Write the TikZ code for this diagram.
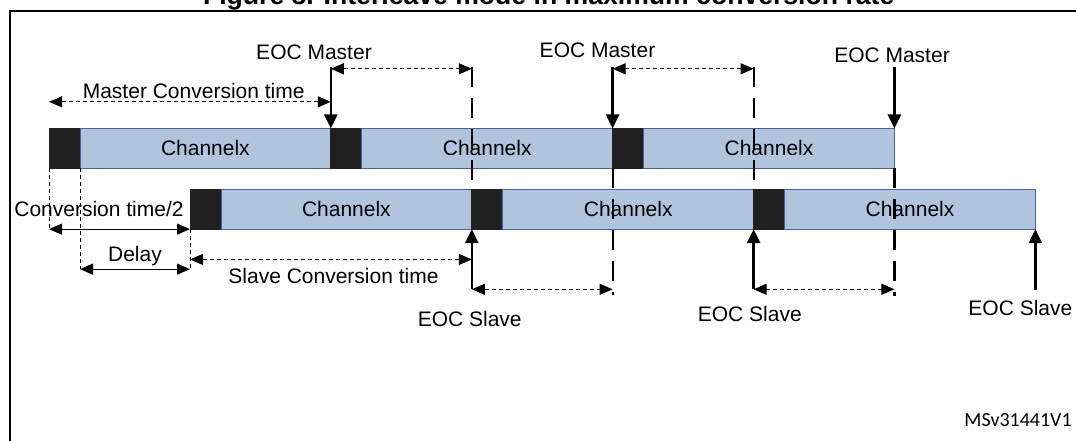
\documentclass[tikz,border=0pt]{standalone}
\usepackage{xcolor}
\usepackage{fontspec}
\setmainfont{Liberation Sans}
\newfontfamily\msfont{Carlito}
\usepackage{tikz}
\usetikzlibrary{arrows.meta,positioning}

\definecolor{chfill}{RGB}{176,196,222}
\definecolor{chline}{RGB}{70,100,158}
\definecolor{blkfill}{RGB}{32,32,32}

\begin{document}
\begin{tikzpicture}[
			x=1pt,y=1pt,
			every node/.style={font=\fontsize{21}{24}\selectfont,inner sep=0pt,outer sep=0pt},
			blk/.style={draw=blkfill,line width=0.8pt,fill=blkfill,minimum width=31pt,minimum height=40pt},
			chan/.style={draw=chline,line width=0.8pt,fill=chfill,minimum width=250.8pt,minimum height=40pt},
			lbl/.style={anchor=base},
			eoc/.style={line width=2.4pt,-{Triangle[length=14pt,width=13pt]}},
			dimd/.style={line width=1.2pt,dash pattern=on 4pt off 3pt,{Triangle[length=13pt,width=11pt]}-{Triangle[length=13pt,width=11pt]}},
			dims/.style={line width=1.2pt,{Triangle[length=13pt,width=11pt]}-{Triangle[length=13pt,width=11pt]}},
			ldash/.style={line width=2.2pt,dash pattern=on 20pt off 11pt},
			thindash/.style={line width=1pt,dash pattern=on 4pt off 3pt}
			]

			\useasboundingbox (0,0) rectangle (1076,441);
			\clip (0,0) rectangle (1076,441);

			\draw[line width=2pt] (10,0) -- (10,430) -- (1076,430);
			\node[anchor=base west,font=\fontsize{26.6}{30}\selectfont\bfseries] (ttl) at (203,436.5) {Figure 8. Interleave mode in maximum conversion rate};

			% master row
			\node[blk,anchor=west] (m1) at (49,292.5) {};
			\node[chan,right=0pt of m1] (mc1) {Channelx};
			\node[blk,right=0pt of mc1] (m2) {};
			\node[chan,right=0pt of m2] (mc2) {Channelx};
			\node[blk,right=0pt of mc2] (m3) {};
			\node[chan,right=0pt of m3] (mc3) {Channelx};

			% slave row
			\node[blk,anchor=west] (s1) at (190,231.85) {};
			\node[chan,right=0pt of s1] (sc1) {Channelx};
			\node[blk,right=0pt of sc1] (s2) {};
			\node[chan,right=0pt of s2] (sc2) {Channelx};
			\node[blk,right=0pt of sc2] (s3) {};
			\node[chan,right=0pt of s3] (sc3) {Channelx};

			\coordinate (t1) at ([yshift=61.3]m2.north west);
			\coordinate (t2) at ([yshift=61.3]m3.north west);
			\coordinate (t3) at ([yshift=61.3]mc3.north east);
			\coordinate (u1) at (s2.north west |- t1);
			\coordinate (u2) at (s3.north west |- t2);

			\draw[ldash] (u1) -- (s2.north west);
			\draw[ldash] (u2) -- (s3.north west);
			\draw[eoc] (t1) -- (m2.north west);
			\draw[eoc] (t2) -- (m3.north west);
			\draw[eoc] (t3) -- (mc3.north east);
			\draw[dimd] ([yshift=-1.6]t1) -- ([yshift=-1.6]u1);
			\draw[dimd] ([yshift=-1.6]t2) -- ([yshift=-1.6]u2);

			\coordinate (b1) at ([yshift=-60.15]s2.south west);
			\coordinate (b2) at ([yshift=-60.15]s3.south west);
			\coordinate (b3) at ([yshift=-60.85]sc3.south east);
			\coordinate (v1) at (m3.south west |- b1);
			\coordinate (v2) at (mc3.south east |- b2);

			\draw[ldash] (m3.south west) -- ([yshift=-6]v1);
			\draw[ldash] (mc3.south east) -- ([yshift=-7]v2);
			\draw[eoc] (b1) -- (s2.south west);
			\draw[eoc] (b2) -- (s3.south west);
			\draw[eoc] (b3) -- (sc3.south east);
			\draw[dimd] (b1) -- (v1);
			\draw[dimd] (b2) -- (v2);

			% conversion times and delay
			\coordinate (f0) at ([yshift=26.7]m1.north west);
			\coordinate (f1) at (m2.north west |- f0);
			\draw[dimd] (f0) -- (f1);

			\coordinate (c0) at (m1.south west |- s1.south west);
			\coordinate (d1) at ([yshift=-40]s1.south west);
			\coordinate (d0) at (m1.south east |- d1);
			\coordinate (e0) at ([yshift=-30.3]s1.south west);
			\coordinate (e1) at (s2.south west |- e0);
			\draw[thindash] (m1.south west) -- (c0);
			\draw[thindash] (m1.south east) -- (d0);
			\draw[thindash] (s1.south west) -- (d1);
			\draw[dims] (c0) -- (s1.south west);
			\draw[dims] (d0) -- (d1);
			\draw[dimd] (e0) -- (e1);

			% labels
			\node[lbl] (lm1) at (314,381) {EOC Master};
			\node[lbl] (lm2) at (597.5,383.3) {EOC Master};
			\node[lbl] (lm3) at (892,378.3) {EOC Master};
			\node[lbl] (lmct) at (193.7,342.7) {Master Conversion time};
			\node[lbl] (lhalf) at (99,224.3) {Conversion time/2};
			\node[lbl] (ldel) at (135,179.3) {Delay};
			\node[lbl] (lsct) at (333.5,157) {Slave Conversion time};
			\node[lbl] (ls1) at (469.7,114.3) {EOC Slave};
			\node[lbl] (ls2) at (749.8,119.3) {EOC Slave};
			\node[lbl] (ls3) at (1020.4,125.3) {EOC Slave};
			\node[anchor=base east,font=\fontsize{20}{24}\msfont] (ref) at (1071.7,14) {MSv31441V1};

\end{tikzpicture}
\end{document}
